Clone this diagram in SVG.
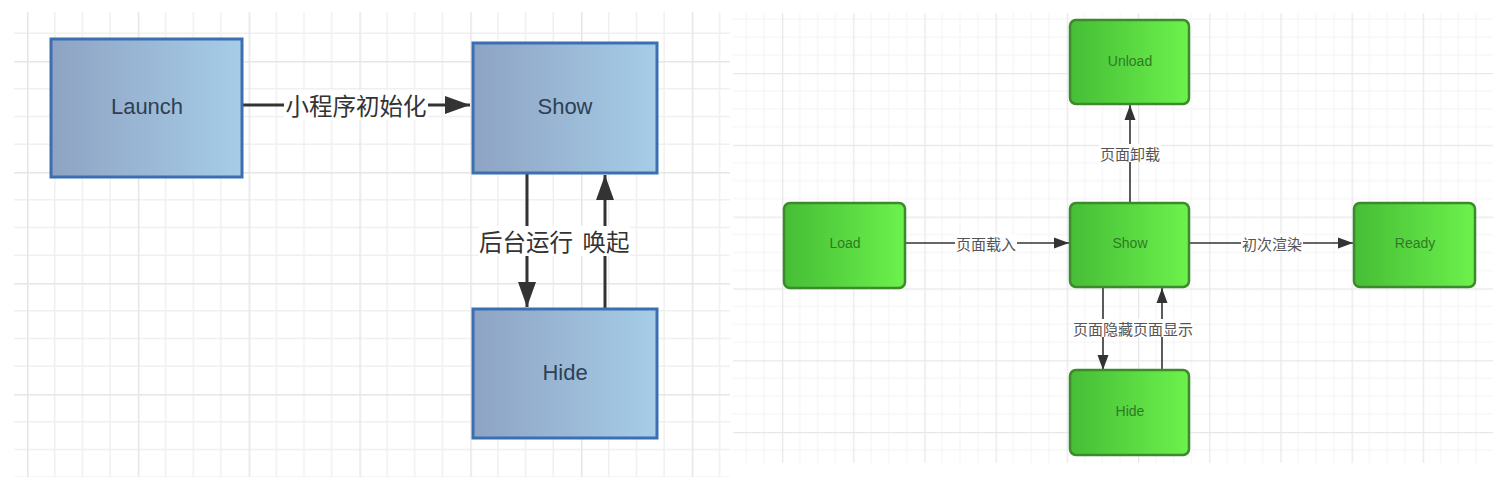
<svg xmlns="http://www.w3.org/2000/svg" width="1500" height="483" viewBox="0 0 1500 483">
<style>
.bluebox{fill:url(#gBlue);stroke:#3a6fb2;stroke-width:3}
.greenbox{fill:url(#gGreen);stroke:#3c8a2c;stroke-width:2.5}
.btxt{font-family:"Liberation Sans","DejaVu Sans",sans-serif;font-size:22px;fill:#2e3f56;text-anchor:middle;dominant-baseline:central}
.gtxt{font-family:"Liberation Sans","DejaVu Sans",sans-serif;font-size:14px;fill:#2f7a25;text-anchor:middle;dominant-baseline:central}
.blbl{font-family:"Noto Sans CJK SC",sans-serif;font-size:23.5px;fill:#333;text-anchor:middle;dominant-baseline:central}
.glbl{font-family:"Noto Sans CJK SC",sans-serif;font-size:15px;fill:#555;text-anchor:middle;dominant-baseline:central}
.bline{stroke:#333;stroke-width:3;fill:none}
.gline{stroke:#333;stroke-width:1.6;fill:none}
.bg{fill:#fff}
</style>
<defs>
<linearGradient id="gBlue" x1="0" y1="0" x2="1" y2="0">
<stop offset="0" stop-color="#8ea3c3"/><stop offset="1" stop-color="#a6cde7"/>
</linearGradient>
<linearGradient id="gGreen" x1="0" y1="0" x2="1" y2="0">
<stop offset="0" stop-color="#46bd36"/><stop offset="1" stop-color="#6cf24c"/>
</linearGradient>
<pattern id="gridL" patternUnits="userSpaceOnUse" x="27" y="61" width="110.8" height="111">
<path d="M27.7 0V111M55.4 0V111M83.1 0V111M0 27.75H110.8M0 55.5H110.8M0 83.25H110.8" stroke="#f0f0f0" stroke-width="1.5" fill="none"/>
<path d="M0.5 0V111M0 0.5H110.8" stroke="#e6e6e6" stroke-width="2" fill="none"/>
</pattern>
<pattern id="gridR" patternUnits="userSpaceOnUse" x="782" y="73" width="71.2" height="71.8">
<path d="M17.8 0V71.8M35.6 0V71.8M53.4 0V71.8M0 17.95H71.2M0 35.9H71.2M0 53.85H71.2" stroke="#f3f3f3" stroke-width="1" fill="none"/>
<path d="M0.5 0V71.8M0 0.5H71.2" stroke="#e8e8e8" stroke-width="1.5" fill="none"/>
</pattern>
<marker id="aBig" markerUnits="userSpaceOnUse" markerWidth="26" markerHeight="20" refX="25" refY="10" orient="auto">
<path d="M0 1L25 10L0 19z" fill="#333"/>
</marker>
<marker id="aSmall" markerUnits="userSpaceOnUse" markerWidth="16" markerHeight="12" refX="15" refY="6" orient="auto">
<path d="M0 0.5L15 6L0 11.5z" fill="#333"/>
</marker>
</defs>
<rect width="1500" height="483" fill="#fff"/>
<rect x="14" y="12" width="716" height="465" fill="url(#gridL)"/>
<rect x="733" y="13" width="760" height="450" fill="url(#gridR)"/>

<g id="connectors">
<path class="bline" d="M242 105H470" marker-end="url(#aBig)"/>
<rect class="bg" x="284" y="90" width="144" height="30"/>
<text class="blbl" x="356" y="105">小程序初始化</text>
<path class="bline" d="M527 174V307" marker-end="url(#aBig)"/>
<path class="bline" d="M605 308V175" marker-end="url(#aBig)"/>
<rect class="bg" x="479" y="226" width="151" height="30"/>
<text class="blbl" x="526" y="241">后台运行</text>
<text class="blbl" x="606" y="241">唤起</text>
<path class="gline" d="M905 243H1069" marker-end="url(#aSmall)"/>
<rect class="bg" x="955" y="234" width="62" height="18"/>
<text class="glbl" x="986" y="243">页面载入</text>
<path class="gline" d="M1189 243H1353" marker-end="url(#aSmall)"/>
<rect class="bg" x="1241" y="234" width="62" height="18"/>
<text class="glbl" x="1272" y="243">初次渲染</text>
<path class="gline" d="M1130 203V105" marker-end="url(#aSmall)"/>
<rect class="bg" x="1099" y="144" width="62" height="18"/>
<text class="glbl" x="1130" y="153">页面卸载</text>
<path class="gline" d="M1103 288V370" marker-end="url(#aSmall)"/>
<path class="gline" d="M1162 370V288" marker-end="url(#aSmall)"/>
<rect class="bg" x="1072" y="319" width="122" height="18"/>
<text class="glbl" x="1103" y="328">页面隐藏</text>
<text class="glbl" x="1163" y="328">页面显示</text>
</g>

<g id="launch"><rect class="bluebox" x="51" y="39" width="191" height="138"/><text class="btxt" x="147" y="106">Launch</text></g>
<g id="show-app"><rect class="bluebox" x="473" y="43" width="184" height="130"/><text class="btxt" x="565" y="106">Show</text></g>
<g id="hide-app"><rect class="bluebox" x="473" y="309" width="184" height="129"/><text class="btxt" x="565" y="372">Hide</text></g>

<g id="unload"><rect class="greenbox" x="1070" y="20" width="119" height="84" rx="6"/><text class="gtxt" x="1130" y="61">Unload</text></g>
<g id="load"><rect class="greenbox" x="784" y="203" width="121" height="85" rx="6"/><text class="gtxt" x="845" y="243">Load</text></g>
<g id="show-page"><rect class="greenbox" x="1070" y="203" width="119" height="84" rx="6"/><text class="gtxt" x="1130" y="243">Show</text></g>
<g id="ready"><rect class="greenbox" x="1354" y="203" width="121" height="84" rx="6"/><text class="gtxt" x="1415" y="243">Ready</text></g>
<g id="hide-page"><rect class="greenbox" x="1070" y="370" width="119" height="85" rx="6"/><text class="gtxt" x="1130" y="411">Hide</text></g>
</svg>
